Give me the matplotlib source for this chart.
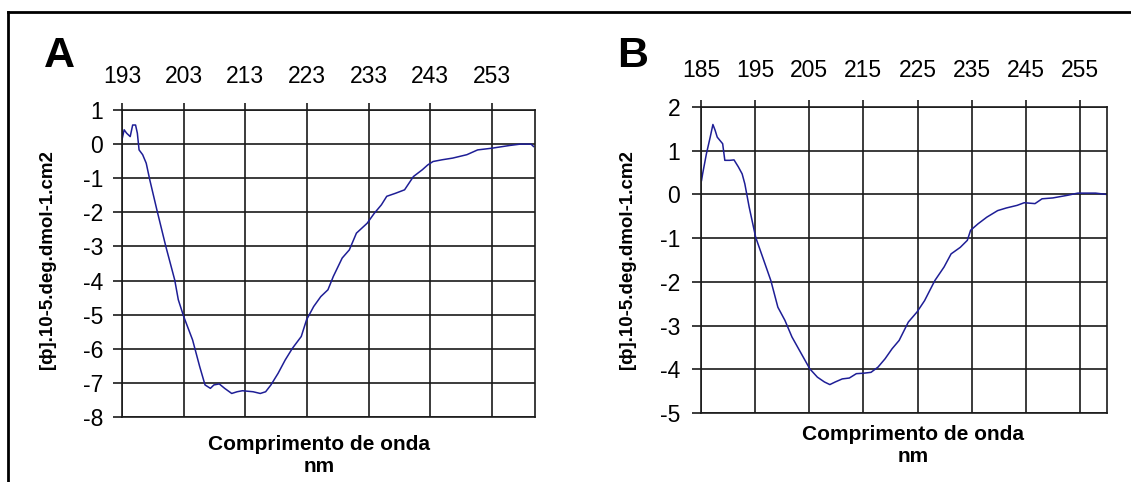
"""CD spectra, panels A and B (molar ellipticity vs wavelength)."""

import matplotlib
matplotlib.use("Agg")
import matplotlib.pyplot as plt
from matplotlib.lines import Line2D

# ── Data ───────────────────────────────────────────────────────────────────
wl_a = [193.0, 193.35, 193.75, 194.33, 194.73, 195.2, 195.49, 195.77, 196.35,
        196.93, 197.51, 198.66, 200.11, 201.55, 202.13, 203.0, 204.45, 205.6,
        206.47, 207.34, 207.91, 208.78, 209.65, 210.8, 211.67, 212.54, 214.27,
        215.43, 216.3, 217.16, 218.32, 219.47, 220.63, 222.08, 222.94, 224.1,
        225.25, 226.41, 227.28, 228.72, 229.88, 231.03, 232.77, 233.92, 235.08,
        235.95, 237.39, 238.84, 240.28, 241.73, 242.6, 243.46, 244.91, 246.64,
        248.95, 250.69, 253.0, 255.89, 257.62, 259.36, 259.76]
ell_a = [0.13, 0.42, 0.32, 0.22, 0.56, 0.56, 0.32, -0.17, -0.31,
         -0.56, -1.05, -1.93, -3.0, -3.98, -4.56, -5.05, -5.74, -6.52,
         -7.06, -7.16, -7.06, -7.03, -7.16, -7.31, -7.26, -7.23, -7.26,
         -7.31, -7.26, -7.06, -6.72, -6.33, -5.99, -5.64, -5.15, -4.76,
         -4.47, -4.27, -3.88, -3.34, -3.10, -2.61, -2.32, -2.03, -1.78,
         -1.53, -1.44, -1.34, -0.95, -0.75, -0.61, -0.51, -0.46, -0.41,
         -0.31, -0.17, -0.12, -0.04, 0.0, 0.0, -0.07]

wl_b = [185.1, 185.3, 186.0, 186.7, 187.2, 187.6, 188.0, 189.0, 189.4, 190.3,
        191.1, 191.9, 192.6, 193.1, 193.9, 195.1, 196.6, 197.9, 199.2, 200.5,
        201.8, 203.2, 205.1, 206.5, 207.8, 208.8, 209.8, 211.1, 212.4, 213.7,
        215.0, 216.4, 217.7, 219.0, 220.3, 221.6, 223.3, 224.9, 226.3, 228.2,
        229.9, 231.2, 232.9, 234.2, 234.8, 236.2, 237.8, 239.8, 241.4, 243.4,
        244.7, 246.7, 248.0, 250.0, 252.7, 254.6, 257.9, 259.9]
ell_b = [0.32, 0.47, 0.93, 1.31, 1.60, 1.47, 1.31, 1.16, 0.78, 0.78,
         0.79, 0.63, 0.47, 0.24, -0.29, -0.98, -1.51, -1.97, -2.58, -2.88,
         -3.26, -3.57, -3.99, -4.18, -4.29, -4.35, -4.29, -4.22, -4.20, -4.10,
         -4.09, -4.07, -3.95, -3.76, -3.53, -3.34, -2.92, -2.69, -2.43, -1.97,
         -1.66, -1.36, -1.21, -1.05, -0.82, -0.67, -0.52, -0.37, -0.31, -0.25,
         -0.19, -0.21, -0.10, -0.08, -0.02, 0.03, 0.03, 0.0]

xticks_a = [193, 203, 213, 223, 233, 243, 253]
xticks_b = [185, 195, 205, 215, 225, 235, 245, 255]
yticks_a = list(range(-8, 2))
yticks_b = list(range(-5, 3))

YLABEL = "[ф].10-5.deg.dmol-1.cm2"
XLABEL = "Comprimento de onda\nnm"

LINE_COLOR = "#1e1e96"
TICK_FONT = ["Liberation Sans Narrow", "Liberation Sans", "DejaVu Sans"]
BOLD_FONT = ["Liberation Sans", "DejaVu Sans"]

W, H = 1131, 482
fig = plt.figure(figsize=(W / 100, H / 100), dpi=100)


def px_rect(left, top, right, bottom):
    return [left / W, 1 - bottom / H, (right - left) / W, (bottom - top) / H]


def draw_panel(rect, wl, ell, xticks, yticks, xlim, top_pad, y_pad):
    ax = fig.add_axes(rect)
    ax.plot(wl, ell, color=LINE_COLOR, lw=1.1)
    ax.set_xlim(*xlim)
    ax.set_ylim(yticks[0], yticks[-1])
    ax.xaxis.tick_top()
    ax.set_xticks(xticks)
    ax.set_yticks(yticks)
    ax.set_xticklabels([str(t) for t in xticks], family=TICK_FONT, fontsize=16.5)
    ax.set_yticklabels([str(t) for t in yticks], family=TICK_FONT, fontsize=16.5)
    ax.tick_params(axis="x", direction="out", length=5, width=1.2,
                   color="#1a1a1a", pad=top_pad)
    ax.tick_params(axis="y", direction="out", length=6.5, width=1.2,
                   color="#1a1a1a", pad=y_pad)
    ax.grid(True, color="#1a1a1a", lw=1.2)
    for sp in ax.spines.values():
        sp.set_color("#1a1a1a")
        sp.set_linewidth(1.2)
    ax.set_axisbelow(True)
    return ax


ax_a = draw_panel(px_rect(122, 110, 535, 417), wl_a, ell_a, xticks_a, yticks_a,
                  (193, 260), top_pad=11, y_pad=7)
ax_b = draw_panel(px_rect(701, 107, 1107, 413), wl_b, ell_b, xticks_b, yticks_b,
                  (185, 260), top_pad=13, y_pad=8.5)

# axis titles placed in pixel terms
fig.text(48 / W, 1 - 260 / H, YLABEL, rotation=90, ha="center", va="center",
         family=BOLD_FONT, fontweight="bold", fontsize=13.5)
fig.text(628 / W, 1 - 260 / H, YLABEL, rotation=90, ha="center", va="center",
         family=BOLD_FONT, fontweight="bold", fontsize=13.5)
fig.text(319 / W, 1 - 455 / H, XLABEL, ha="center", va="center", linespacing=1.2,
         family=BOLD_FONT, fontweight="bold", fontsize=15)
fig.text(913 / W, 1 - 445 / H, XLABEL, ha="center", va="center", linespacing=1.2,
         family=BOLD_FONT, fontweight="bold", fontsize=15)

# panel letters
fig.text(44 / W, 1 - 67 / H, "A", ha="left", va="baseline",
         family=["Liberation Sans Narrow", "Liberation Sans"], fontweight="bold", fontsize=31)
fig.text(617 / W, 1 - 67 / H, "B", ha="left", va="baseline",
         family=["Liberation Sans Narrow", "Liberation Sans"], fontweight="bold", fontsize=31)

# outer frame (top and left edges only)
fig.add_artist(Line2D([8 / W, 1], [1 - 12 / H, 1 - 12 / H], color="black", lw=2,
                      transform=fig.transFigure))
fig.add_artist(Line2D([8 / W, 8 / W], [0, 1 - 12 / H], color="black", lw=2,
                      transform=fig.transFigure))

fig.savefig("out.png", dpi=100)
